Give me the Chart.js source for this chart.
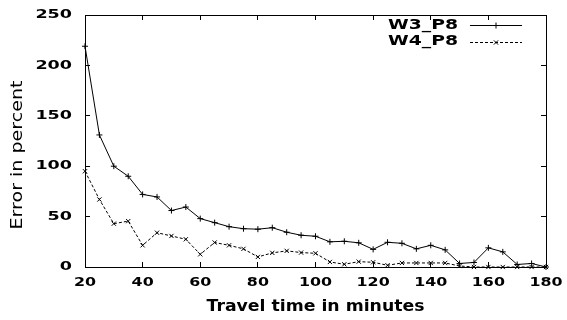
<!DOCTYPE html>
<html>
<head>
<meta charset="utf-8">
<script src="https://cdn.jsdelivr.net/npm/chart.js@4/dist/chart.umd.min.js"></script>
<style>
  html, body { margin: 0; padding: 0; background: #fff; }
  #wrap { width: 567px; height: 320px; position: relative; }
</style>
</head>
<body>
<div id="wrap"><canvas id="c"></canvas></div>
<script>
// ---- data ----
const minutes = [20,25,30,35,40,45,50,55,60,65,70,75,80,85,90,95,100,105,110,115,120,125,130,135,140,145,150,155,160,165,170,175,180];
const w3p8 = [219,131,100,90,72,69.5,56,59.5,48,44,40,38,37.5,39,34.5,31.5,30.5,25,25.5,24,17.5,24.5,23.5,18,21.5,17,3.5,4.5,19,15,2.5,3.5,0];
const w4p8 = [95,67,43,45.5,21.5,34,30.8,27.5,12.6,24.3,21.5,18,10,14,16,14.3,13.6,5,2.7,5.3,4.7,1.7,4,4,4,4,1,0,0,0,0,0,0];
const seriesNames = ['W3_P8', 'W4_P8'];
const xLabel = 'Travel time in minutes';
const yLabel = 'Error in percent';
const xRange = {min: 20, max: 180, step: 20};
const yRange = {min: 0, max: 250, step: 50};

// ---- styling ----
const FONT = 'DejaVu Sans';
// horizontal stretch of text, keyed by font size: [scaleX, shift along text]
const TEXT_STRETCH = {'12': [1.46, 0], '13': [1.22, 0], '13.5': [1.39, 0], '15': [1.27, -14], '16': [1.08, 0]};

const canvas = document.getElementById('c');
const ctx = canvas.getContext('2d');
const origFillText = ctx.fillText;
ctx.fillText = function(text, x, y, maxWidth) {
  const m = /(\d+(?:\.\d+)?)px/.exec(this.font);
  const s = m && TEXT_STRETCH[m[1]];
  if (!s) {
    return maxWidth === undefined ? origFillText.call(this, text, x, y) : origFillText.call(this, text, x, y, maxWidth);
  }
  this.save();
  this.translate(x + s[1], y);
  this.scale(s[0], 1);
  origFillText.call(this, text, 0, 0);
  this.restore();
};

const legendPlugin = {
  id: 'gnuLegend',
  afterDraw(chart) {
    const c = chart.ctx;
    const area = chart.chartArea;
    c.save();
    chart.data.datasets.forEach((ds, i) => {
      const y = area.top + 10 + i * 16.5;
      c.fillStyle = '#000';
      c.font = 'bold 13.5px "' + FONT + '"';
      c.textAlign = 'right';
      c.textBaseline = 'middle';
      c.fillText(ds.label, area.right - 88, y);
      c.strokeStyle = '#000';
      c.lineWidth = 1;
      c.setLineDash(ds.borderDash || []);
      c.beginPath();
      c.moveTo(area.right - 76, Math.round(y) + 0.5);
      c.lineTo(area.right - 24, Math.round(y) + 0.5);
      c.stroke();
      c.setLineDash([]);
      Chart.helpers.drawPoint(c, {pointStyle: ds.pointStyle, radius: ds.pointRadius, borderWidth: 1, rotation: 0}, area.right - 50, Math.round(y) + 0.5);
    });
    c.restore();
  }
};

function fixSize(w, h) {
  return function(scale) {
    if (w !== null) scale.width = w;
    if (h !== null) scale.height = h;
    scale.paddingTop = 0; scale.paddingBottom = 0; scale.paddingLeft = 0; scale.paddingRight = 0;
  };
}

const innerTicks = {display: true, drawOnChartArea: false, drawTicks: true, tickLength: -5, color: '#000', lineWidth: 1};
const frame = {display: true, color: '#000', width: 1};

new Chart(ctx, {
  type: 'line',
  data: {
    labels: minutes,
    datasets: [
      {
        label: seriesNames[0],
        data: minutes.map((m, i) => ({x: m, y: w3p8[i]})),
        borderColor: '#000', backgroundColor: '#000', borderWidth: 1,
        pointStyle: 'cross', pointRadius: 3, pointBorderWidth: 1, pointBorderColor: '#000',
        tension: 0, fill: false, clip: false
      },
      {
        label: seriesNames[1],
        data: minutes.map((m, i) => ({x: m, y: w4p8[i]})),
        borderColor: '#000', backgroundColor: '#000', borderWidth: 1, borderDash: [3, 2],
        pointStyle: 'crossRot', pointRadius: 3, pointBorderWidth: 1, pointBorderColor: '#000',
        tension: 0, fill: false, clip: false
      }
    ]
  },
  options: {
    responsive: true,
    maintainAspectRatio: false,
    animation: false,
    layout: {padding: {top: 15, right: 21, left: 0, bottom: 0}},
    plugins: {legend: {display: false}, tooltip: {enabled: false}},
    scales: {
      x: {
        type: 'linear', position: 'bottom',
        min: xRange.min, max: xRange.max,
        ticks: {stepSize: xRange.step, color: '#000', padding: 13, maxRotation: 0, autoSkip: false,
                font: {family: FONT, size: 13, weight: 'bold'}},
        grid: innerTicks, border: frame,
        title: {display: true, text: xLabel, color: '#000', padding: {top: 0, bottom: 4},
                font: {family: FONT, size: 16, weight: 'bold'}},
        afterFit: fixSize(null, 53)
      },
      y: {
        type: 'linear', position: 'left',
        min: yRange.min, max: yRange.max,
        ticks: {stepSize: yRange.step, color: '#000', padding: 18,
                font: {family: FONT, size: 12, weight: 'bold'}},
        grid: innerTicks, border: frame,
        title: {display: true, text: yLabel, color: '#000', padding: {top: 9, bottom: 0},
                font: {family: FONT, size: 15, weight: 'normal'}},
        afterFit: fixSize(85, null)
      },
      x2: {
        type: 'linear', position: 'top',
        min: xRange.min, max: xRange.max,
        ticks: {stepSize: xRange.step, display: false},
        grid: innerTicks, border: frame,
        afterFit: fixSize(null, 0)
      },
      y2: {
        type: 'linear', position: 'right',
        min: yRange.min, max: yRange.max,
        ticks: {stepSize: yRange.step, display: false},
        grid: innerTicks, border: frame,
        afterFit: fixSize(0, null)
      }
    }
  },
  plugins: [legendPlugin]
});
</script>
</body>
</html>
